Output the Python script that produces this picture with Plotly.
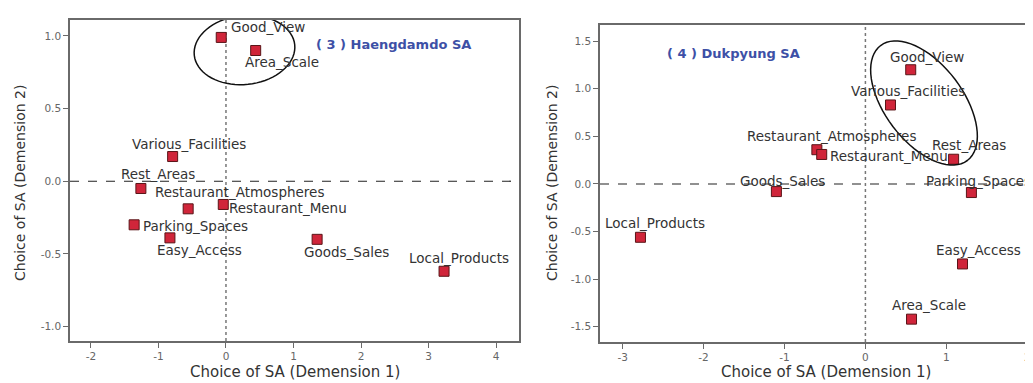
import math
import plotly.graph_objects as go

# ---------------- data ----------------
attributes = ["Good_View", "Area_Scale", "Various_Facilities", "Rest_Areas",
              "Restaurant_Atmospheres", "Restaurant_Menu", "Parking_Spaces",
              "Easy_Access", "Goods_Sales", "Local_Products"]

haeng_dim1 = [-0.07, 0.44, -0.79, -1.26, -0.56, -0.04, -1.36, -0.83, 1.35, 3.23]
haeng_dim2 = [0.99, 0.90, 0.17, -0.05, -0.19, -0.16, -0.30, -0.39, -0.40, -0.62]

dukp_dim1 = [0.56, 0.57, 0.31, 1.09, -0.60, -0.54, 1.31, 1.20, -1.10, -2.78]
dukp_dim2 = [1.20, -1.42, 0.83, 0.26, 0.36, 0.31, -0.09, -0.84, -0.08, -0.56]

left_ticks_x = [-2, -1, 0, 1, 2, 3, 4]
left_ticks_y = [-1.0, -0.5, 0.0, 0.5, 1.0]
right_ticks_x = [-3, -2, -1, 0, 1, 2]
right_ticks_y = [-1.5, -1.0, -0.5, 0.0, 0.5, 1.0, 1.5]

titles = ["( 3 ) Haengdamdo SA", "( 4 ) Dukpyung SA"]
xtitle = "Choice of SA (Demension 1)"
ytitle = "Choice of SA (Demension 2)"

# ---------------- layout constants ----------------
W, H = 1033, 383
L_XR = [-2.31, 4.34]
L_YR = [-1.10, 1.11]
R_XR = [-3.28, 2.17]
R_YR = [-1.66, 1.67]
L_XD = [62 / W, 511 / W]
L_YD = [(H - 333) / H, (H - 12) / H]
R_XD = [592 / W, 1.0]
R_YD = [(H - 334) / H, (H - 17) / H]

# label offsets in pixels (centre of text relative to marker)
left_off = {
    "Good_View": (47, 10), "Area_Scale": (26, -11), "Various_Facilities": (16, 13),
    "Rest_Areas": (17, 14), "Restaurant_Atmospheres": (51, 17),
    "Restaurant_Menu": (65, -4), "Parking_Spaces": (61, -1),
    "Easy_Access": (30, -12), "Goods_Sales": (29, -13), "Local_Products": (15, 13),
}
right_off = {
    "Good_View": (16, 13), "Area_Scale": (17, 14), "Various_Facilities": (18, 14),
    "Rest_Areas": (15, 14), "Restaurant_Atmospheres": (15, 14),
    "Restaurant_Menu": (67, -2), "Parking_Spaces": (7, 12),
    "Easy_Access": (16, 14), "Goods_Sales": (6, 11), "Local_Products": (15, 14),
}

FONT = "DejaVu Sans"
LABEL_COLOR = "#333333"
LABEL_SIZE = 13.5
MARKER = dict(symbol="square", size=10, color="#d0253a",
              line=dict(color="#5a1518", width=1))

fig = go.Figure()
fig.add_trace(go.Scatter(x=haeng_dim1, y=haeng_dim2, mode="markers",
                         marker=MARKER, xaxis="x", yaxis="y",
                         showlegend=False, hoverinfo="text", text=attributes))
fig.add_trace(go.Scatter(x=dukp_dim1, y=dukp_dim2, mode="markers",
                         marker=MARKER, xaxis="x2", yaxis="y2",
                         showlegend=False, hoverinfo="text", text=attributes))

annotations = []
for name, xv, yv in zip(attributes, haeng_dim1, haeng_dim2):
    dx, dy = left_off[name]
    annotations.append(dict(x=xv, y=yv, xref="x", yref="y", text=name,
                            showarrow=False, xshift=dx, yshift=dy,
                            xanchor="center", yanchor="middle",
                            font=dict(family=FONT, size=LABEL_SIZE, color=LABEL_COLOR)))
for name, xv, yv in zip(attributes, dukp_dim1, dukp_dim2):
    dx, dy = right_off[name]
    annotations.append(dict(x=xv, y=yv, xref="x2", yref="y2", text=name,
                            showarrow=False, xshift=dx, yshift=dy,
                            xanchor="center", yanchor="middle",
                            font=dict(family=FONT, size=LABEL_SIZE, color=LABEL_COLOR)))

# panel titles
annotations.append(dict(x=385 / W, y=1 - 36 / H, xref="paper", yref="paper",
                        text="<b>" + titles[0] + "</b>", showarrow=False,
                        xanchor="center", yanchor="middle",
                        font=dict(family=FONT, size=13, color="#3d50a6")))
annotations.append(dict(x=725 / W, y=1 - 45 / H, xref="paper", yref="paper",
                        text="<b>" + titles[1] + "</b>", showarrow=False,
                        xanchor="center", yanchor="middle",
                        font=dict(family=FONT, size=13, color="#3d50a6")))

# axis titles
for xc in [287 / W, 818 / W]:
    annotations.append(dict(x=xc, y=1 - 364 / H, xref="paper", yref="paper",
                            text=xtitle, showarrow=False,
                            xanchor="center", yanchor="middle",
                            font=dict(family=FONT, size=15, color="#333333")))
for xc in [12 / W, 544 / W]:
    annotations.append(dict(x=xc, y=1 - 175 / H, xref="paper", yref="paper",
                            text=ytitle, showarrow=False, textangle=-90,
                            xanchor="center", yanchor="middle",
                            font=dict(family=FONT, size=14, color="#333333")))


def ellipse_path(cx_px, cy_px, a, b, ang_deg, xr, yr, xd, yd):
    """Build an SVG path (in data units) for a rotated ellipse given in pixels."""
    x0p, x1p = xd[0] * W, xd[1] * W
    y0p, y1p = (1 - yd[1]) * H, (1 - yd[0]) * H
    def to_data(px, py):
        xv = xr[0] + (px - x0p) / (x1p - x0p) * (xr[1] - xr[0])
        yv = yr[1] - (py - y0p) / (y1p - y0p) * (yr[1] - yr[0])
        return xv, yv
    th = math.radians(ang_deg)
    pts = []
    for i in range(73):
        t = 2 * math.pi * i / 72
        dx = a * math.cos(t) * math.cos(th) - b * math.sin(t) * math.sin(th)
        dy = a * math.cos(t) * math.sin(th) + b * math.sin(t) * math.cos(th)
        pts.append(to_data(cx_px + dx, cy_px + dy))
    return "M " + " L ".join(f"{p[0]:.4f},{p[1]:.4f}" for p in pts) + " Z"


shapes = [
    dict(type="line", xref="x", yref="y", x0=L_XR[0], x1=L_XR[1], y0=0, y1=0,
         line=dict(color="#222222", width=1.2, dash="dash"), layer="below"),
    dict(type="line", xref="x", yref="y", x0=0, x1=0, y0=L_YR[0], y1=L_YR[1],
         line=dict(color="#777777", width=1.5, dash="dot"), layer="below"),
    dict(type="line", xref="x2", yref="y2", x0=R_XR[0], x1=R_XR[1], y0=0, y1=0,
         line=dict(color="#222222", width=1.2, dash="dash"), layer="below"),
    dict(type="line", xref="x2", yref="y2", x0=0, x1=0, y0=R_YR[0], y1=R_YR[1],
         line=dict(color="#777777", width=1.5, dash="dot"), layer="below"),
    dict(type="path", xref="x", yref="y",
         path=ellipse_path(236.5, 42, 50.5, 34.5, -6, L_XR, L_YR, L_XD, L_YD),
         line=dict(color="#111111", width=1.5)),
    dict(type="path", xref="x2", yref="y2",
         path=ellipse_path(916, 95, 72, 39, 53, R_XR, R_YR, R_XD, R_YD),
         line=dict(color="#111111", width=1.5)),
]

axis_common = dict(showgrid=False, zeroline=False, showline=True,
                   linecolor="#6a6a6a", linewidth=1.5, ticks="outside",
                   ticklen=5, tickcolor="#6a6a6a", tickwidth=1,
                   tickfont=dict(family=FONT, size=10.5, color="#666666"),
                   fixedrange=True)

fig.update_layout(
    width=W, height=H,
    margin=dict(l=0, r=0, t=0, b=0),
    paper_bgcolor="white", plot_bgcolor="white",
    xaxis=dict(axis_common, domain=L_XD, range=L_XR, tickvals=left_ticks_x,
               ticktext=[str(v) for v in left_ticks_x], mirror=True, anchor="y"),
    yaxis=dict(axis_common, domain=L_YD, range=L_YR, tickvals=left_ticks_y,
               ticktext=[f"{v:.1f}" for v in left_ticks_y], mirror=True, anchor="x"),
    xaxis2=dict(axis_common, domain=R_XD, range=R_XR, tickvals=right_ticks_x,
                ticktext=[str(v) for v in right_ticks_x], mirror=True, anchor="y2"),
    yaxis2=dict(axis_common, domain=R_YD, range=R_YR, tickvals=right_ticks_y,
                ticktext=[f"{v:.1f}" for v in right_ticks_y], mirror=False, anchor="x2"),
    annotations=annotations,
    shapes=shapes,
)

fig.write_html("out.html")
